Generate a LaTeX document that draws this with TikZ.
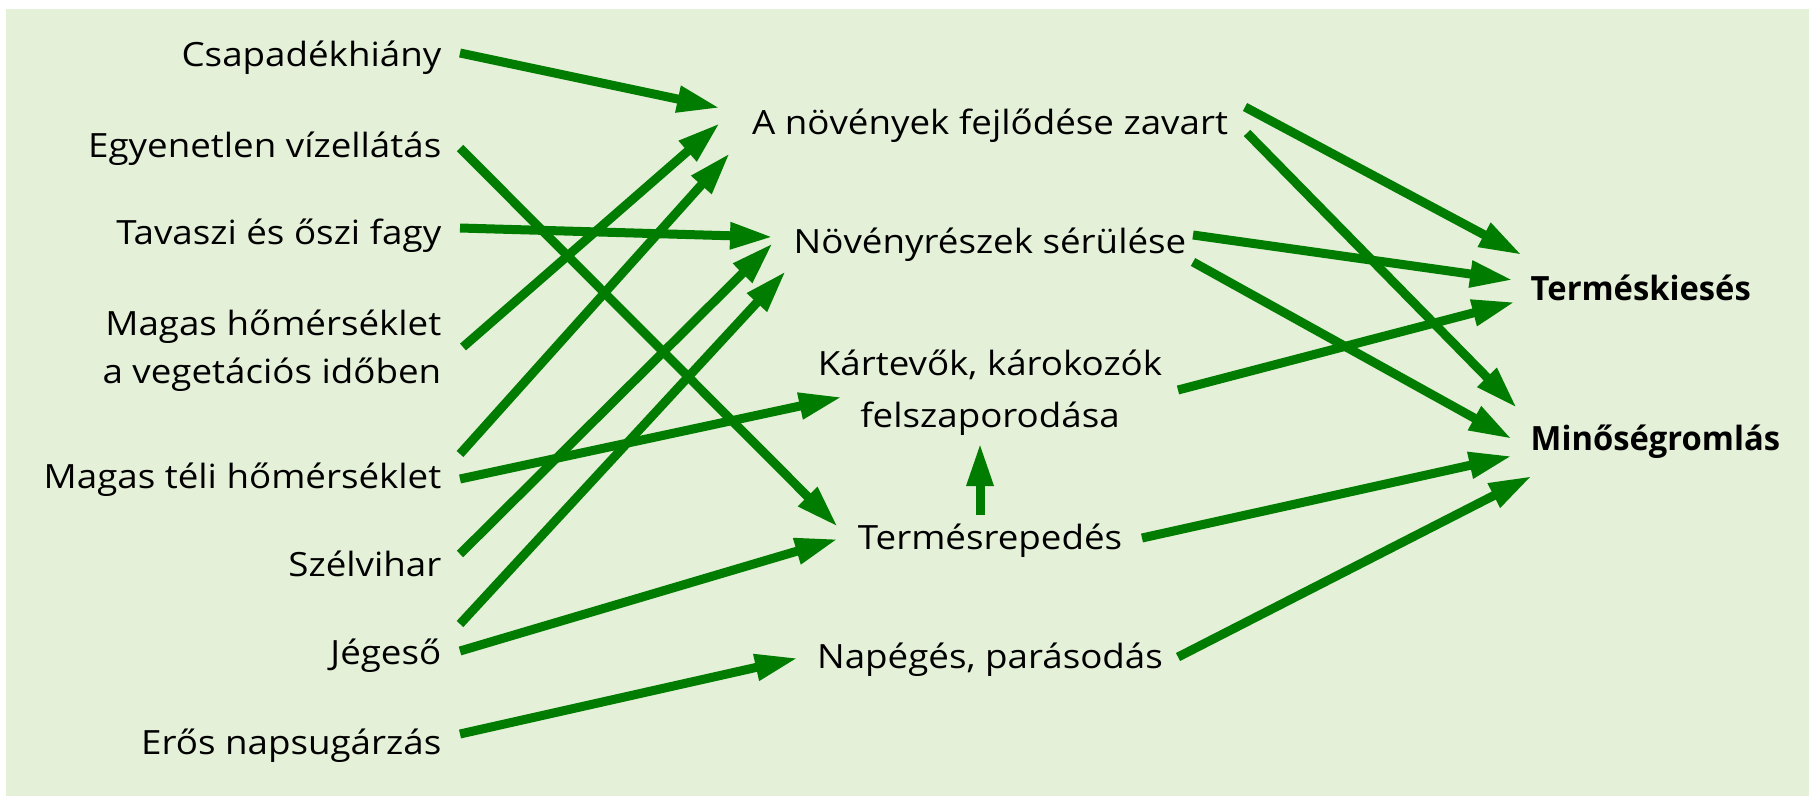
\documentclass[tikz,border=0pt]{standalone}
\usepackage{fontspec}
\setmainfont{Open Sans}[FakeStretch=1.1]
\newfontfamily\resultfont{Open Sans}[FakeStretch=0.98]
\usepackage{tikz}
\usetikzlibrary{arrows.meta}
\definecolor{bggreen}{RGB}{228,240,216}
\definecolor{arrowgreen}{RGB}{0,125,0}
\tikzset{
    >={Triangle[length=4.3mm,width=2.5mm]},
    cause/.style={
        anchor=base east,
        inner sep=0pt,
        align=right,
        font=\fontsize{9.5}{13.6}\selectfont
    },
    effect/.style={
        anchor=base,
        inner sep=0pt,
        align=center,
        font=\fontsize{9.5}{14.7}\selectfont
    },
    result/.style={
        anchor=base west,
        inner sep=0pt,
        font=\resultfont\fontsize{9.5}{13.6}\selectfont\bfseries
    },
    link/.style={draw=arrowgreen, line width=0.9mm, ->}
}

\begin{document}
\begin{tikzpicture}[x=0.1mm, y=-0.1mm]
    \useasboundingbox (0,0) rectangle (1809,796);
    \fill[bggreen] (6,9) rectangle (1809,796);

    % causes
    \node[cause] (csap)   at (442,66)  {Csapadékhiány};
    \node[cause] (egyen)  at (442,157) {Egyenetlen vízellátás};
    \node[cause] (tavasz) at (442,244) {Tavaszi és őszi fagy};
    \node[cause] (maghom) at (442,383) {Magas hőmérséklet\\a vegetációs időben};
    \node[cause] (teli)   at (442,488) {Magas téli hőmérséklet};
    \node[cause] (szel)   at (442,576) {Szélvihar};
    \node[cause] (jeg)    at (442,664) {Jégeső};
    \node[cause] (eros)   at (442,754) {Erős napsugárzás};

    % damages
    \node[effect] (zavart) at (990,134) {A növények fejlődése zavart};
    \node[effect] (serul)  at (990,253) {Növényrészek sérülése};
    \node[effect] (kart)   at (990,427) {Kártevők, károkozók\\felszaporodása};
    \node[effect] (reped)  at (990,549) {Termésrepedés};
    \node[effect] (napeg)  at (990,668) {Napégés, parásodás};

    % results
    \node[result] (kieses) at (1530,300) {Terméskiesés};
    \node[result] (romlas) at (1530,450) {Minőségromlás};

    % causes -> damages
    \draw[link] ([shift={(18,-13)}]csap.base east)   -- ([shift={(-270,-26)}]zavart.base);
    \draw[link] ([shift={(21,-36)}]maghom.base east) -- ([shift={(-270,-11)}]zavart.base);
    \draw[link] ([shift={(18,-34)}]teli.base east)   -- ([shift={(-260,19)}]zavart.base);
    \draw[link] ([shift={(18,-16)}]tavasz.base east) -- ([shift={(-217,-16)}]serul.base);
    \draw[link] ([shift={(18,-22)}]szel.base east)   -- ([shift={(-217,-10)}]serul.base);
    \draw[link] ([shift={(18,-40)}]jeg.base east)    -- ([shift={(-204,18)}]serul.base);
    \draw[link] ([shift={(18,-9)}]teli.base east)    -- ([shift={(-148,-30)}]kart.base);
    \draw[link] ([shift={(18,-9)}]egyen.base east)   -- ([shift={(-152,-22)}]reped.base);
    \draw[link] ([shift={(18,-13)}]jeg.base east)    -- ([shift={(-152,-10)}]reped.base);
    \draw[link] ([shift={(18,-20)}]eros.base east)   -- ([shift={(-192,-10)}]napeg.base);
    \draw[link] ([shift={(-10,-34)}]reped.base)      -- ([shift={(-10,16)}]kart.base);

    % damages -> results
    \draw[link] ([shift={(255,-27)}]zavart.base) -- ([shift={(-8,-45)}]kieses.base west);
    \draw[link] ([shift={(257,-1)}]zavart.base)  -- ([shift={(-13,-42)}]romlas.base west);
    \draw[link] ([shift={(203,-18)}]serul.base)  -- ([shift={(-17,-20)}]kieses.base west);
    \draw[link] ([shift={(203,9)}]serul.base)    -- ([shift={(-18,-11)}]romlas.base west);
    \draw[link] ([shift={(188,-37)}]kart.base)   -- ([shift={(-15,2)}]kieses.base west);
    \draw[link] ([shift={(152,-11)}]reped.base)  -- ([shift={(-18,6)}]romlas.base west);
    \draw[link] ([shift={(188,-11)}]napeg.base)  -- ([shift={(2,26)}]romlas.base west);
\end{tikzpicture}
\end{document}
